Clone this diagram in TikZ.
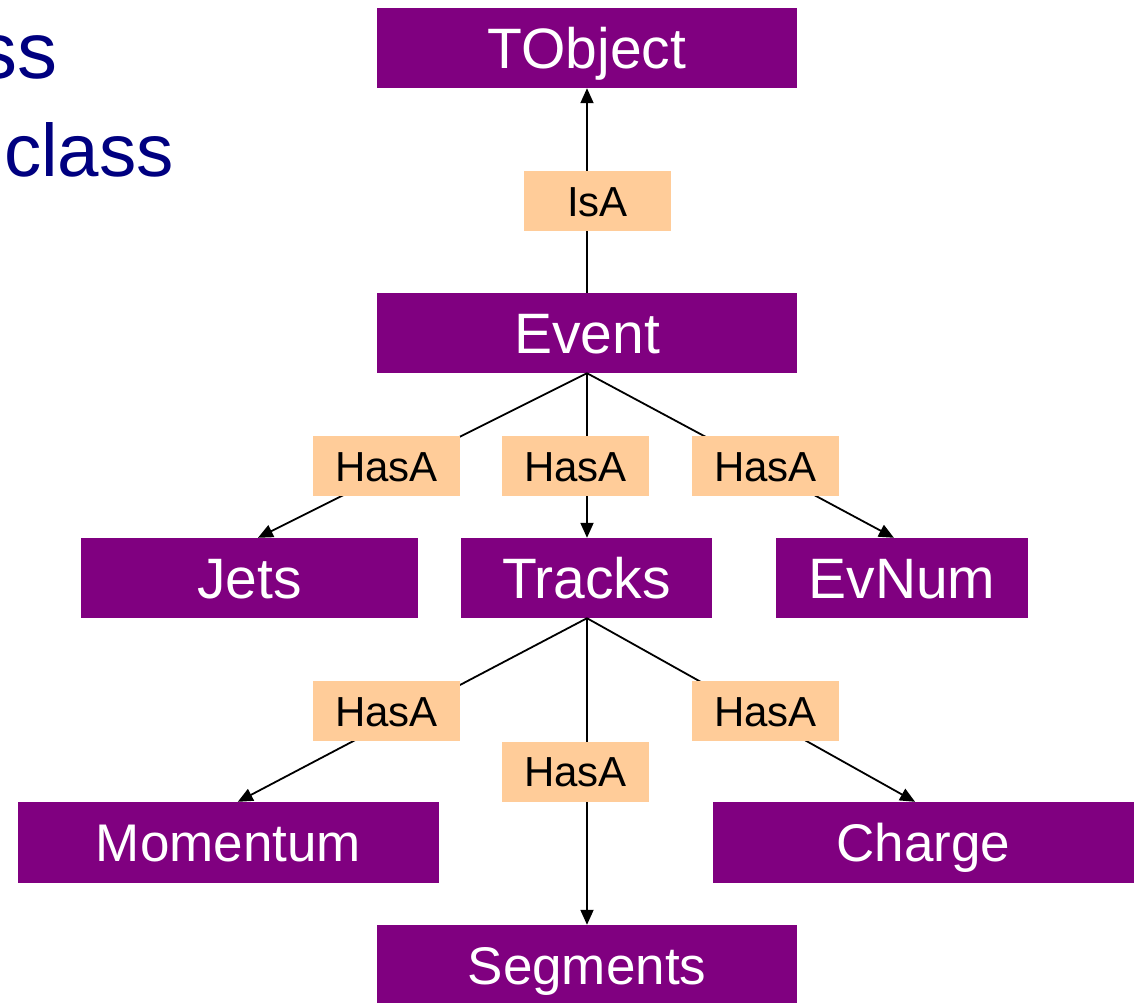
\documentclass[tikz,border=0pt]{standalone}
\usepackage{fontspec}
\setmainfont{Liberation Sans}
\usetikzlibrary{arrows.meta,calc}
\definecolor{boxpurple}{RGB}{128,0,128}
\definecolor{tagorange}{RGB}{255,204,153}
\definecolor{headnavy}{RGB}{0,0,128}
\begin{document}
\begin{tikzpicture}[x=1pt,y=-1pt,
  classbox/.style={fill=boxpurple, text=white, inner sep=0pt, text depth=0pt, minimum height=80pt},
  bigtext/.style={font=\fontsize{57}{60}\selectfont, text height=40.8pt},
  smalltext/.style={font=\fontsize{53}{56}\selectfont, text height=38pt},
  relbox/.style={fill=tagorange, text=black, inner sep=0pt, minimum width=147pt,
    minimum height=60pt, text height=30pt, text depth=0pt, font=\fontsize{42}{44}\selectfont},
  link/.style={line width=1.8pt, -{Triangle[length=15pt,width=13pt]}},
  heading/.style={text=headnavy, inner sep=0pt}
]
\useasboundingbox (0,0) rectangle (1135,1002);
\fill[white] (0,0) rectangle (1135,1002);

% slide heading fragments
\node[heading, anchor=base east, font=\fontsize{80}{84}\selectfont] (headone) at (58,78) {ss};
\node[heading, anchor=base west, font=\fontsize{74.5}{78}\selectfont] (headtwo) at (4,176) {class};

% class boxes
\node[classbox, bigtext, minimum width=420pt] (tobject) at (587,48) {TObject};
\node[classbox, bigtext, minimum width=420pt] (event) at (587,333) {Event};
\node[classbox, bigtext, minimum width=337pt] (jets) at (249.5,578) {Jets};
\node[classbox, bigtext, minimum width=251pt] (tracks) at (586.5,578) {Tracks};
\node[classbox, bigtext, minimum width=252pt] (evnum) at (902,578) {EvNum};
\node[classbox, smalltext, minimum width=421pt, minimum height=81pt] (momentum) at (228.5,842.5) {Momentum};
\node[classbox, smalltext, minimum width=421pt, minimum height=81pt] (charge) at (923.5,842.5) {Charge};
\node[classbox, smalltext, minimum width=420pt] (segments) at (587,965) {Segments};

% relations
\draw[link] (event.north) -- (tobject.south);
\draw[link] (event.south) -- ($(jets.north west)!0.525!(jets.north east)$);
\draw[link] (event.south) -- (event.south |- tracks.north);
\draw[link] (event.south) -- ($(evnum.north west)!0.468!(evnum.north east)$);
\draw[link] (event.south |- tracks.south) -- ($(momentum.north west)!0.522!(momentum.north east)$);
\draw[link] (event.south |- tracks.south) -- (event.south |- segments.north);
\draw[link] (event.south |- tracks.south) -- ($(charge.north west)!0.48!(charge.north east)$);

% relation labels
\node[relbox] (isa) at (597.5,201) {IsA};
\node[relbox] (hjets) at (386.5,466) {HasA};
\node[relbox] (htracks) at (575.5,466) {HasA};
\node[relbox] (hevnum) at (765.5,466) {HasA};
\node[relbox] (hmomentum) at (386.5,711) {HasA};
\node[relbox] (hsegments) at (575.5,771.5) {HasA};
\node[relbox] (hcharge) at (765.5,711) {HasA};
\end{tikzpicture}
\end{document}
